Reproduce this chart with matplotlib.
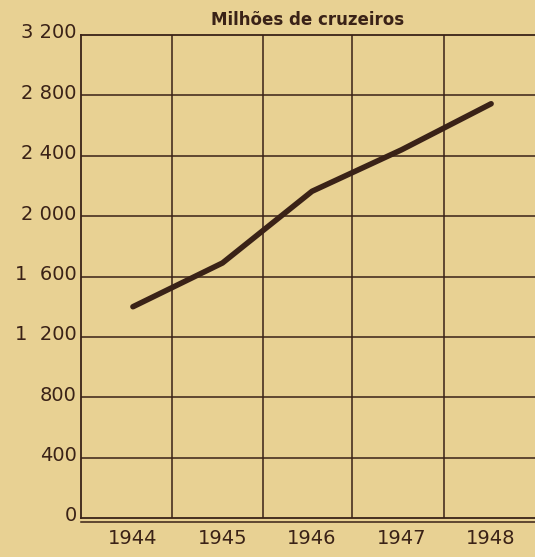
import matplotlib.pyplot as plt
from matplotlib.transforms import ScaledTranslation

# values (milhoes de cruzeiros)
years = [1944, 1945, 1946, 1947, 1948]
values = [1400, 1690, 2165, 2440, 2745]

yticks = [0, 400, 800, 1200, 1600, 2000, 2400, 2800, 3200]
ytick_labels = ["0", "400", "800", "1  200", "1  600", "2 000", "2 400", "2 800", "3 200"]
xgrid = [1944.44, 1945.45, 1946.45, 1947.47]

paper = "#e8d193"
ink = "#3a2217"

fig = plt.figure(figsize=(5.35, 5.57), dpi=100, facecolor=paper)
ax = fig.add_axes([0.1514, 0.070, 0.8486, 0.867], facecolor=paper)

ax.set_xlim(1943.42, 1948.49)
ax.set_ylim(0, 3200)

# grid drawn by hand like the printed chart
for y in yticks[1:-1]:
    ax.axhline(y, color=ink, lw=1.1, zorder=1)
for x in xgrid:
    ax.axvline(x, color=ink, lw=1.1, zorder=1)
# double base line
ax.axhline(-28, color=ink, lw=1.1, clip_on=False, zorder=1)

ax.plot(years, values, color=ink, lw=4, solid_capstyle="round", solid_joinstyle="round", zorder=3)

for s in ax.spines.values():
    s.set_color(ink)
    s.set_linewidth(1.3)
ax.spines["right"].set_visible(False)

ax.set_yticks(yticks)
ax.set_yticklabels(ytick_labels)
ax.set_xticks(years)
ax.set_xticklabels([str(y) for y in years])
ax.tick_params(length=0, labelsize=14, colors=ink, pad=3)
ax.tick_params(axis="x", pad=8)

# printed labels sit a little above their lines
shift = ScaledTranslation(0, 3 / 72, fig.dpi_scale_trans)
for lab in ax.get_yticklabels():
    lab.set_transform(lab.get_transform() + shift)

ax.set_title("Milhões de cruzeiros", fontsize=12, color=ink, pad=7, fontweight="bold")

fig.savefig("out.png", dpi=100, facecolor=paper)
